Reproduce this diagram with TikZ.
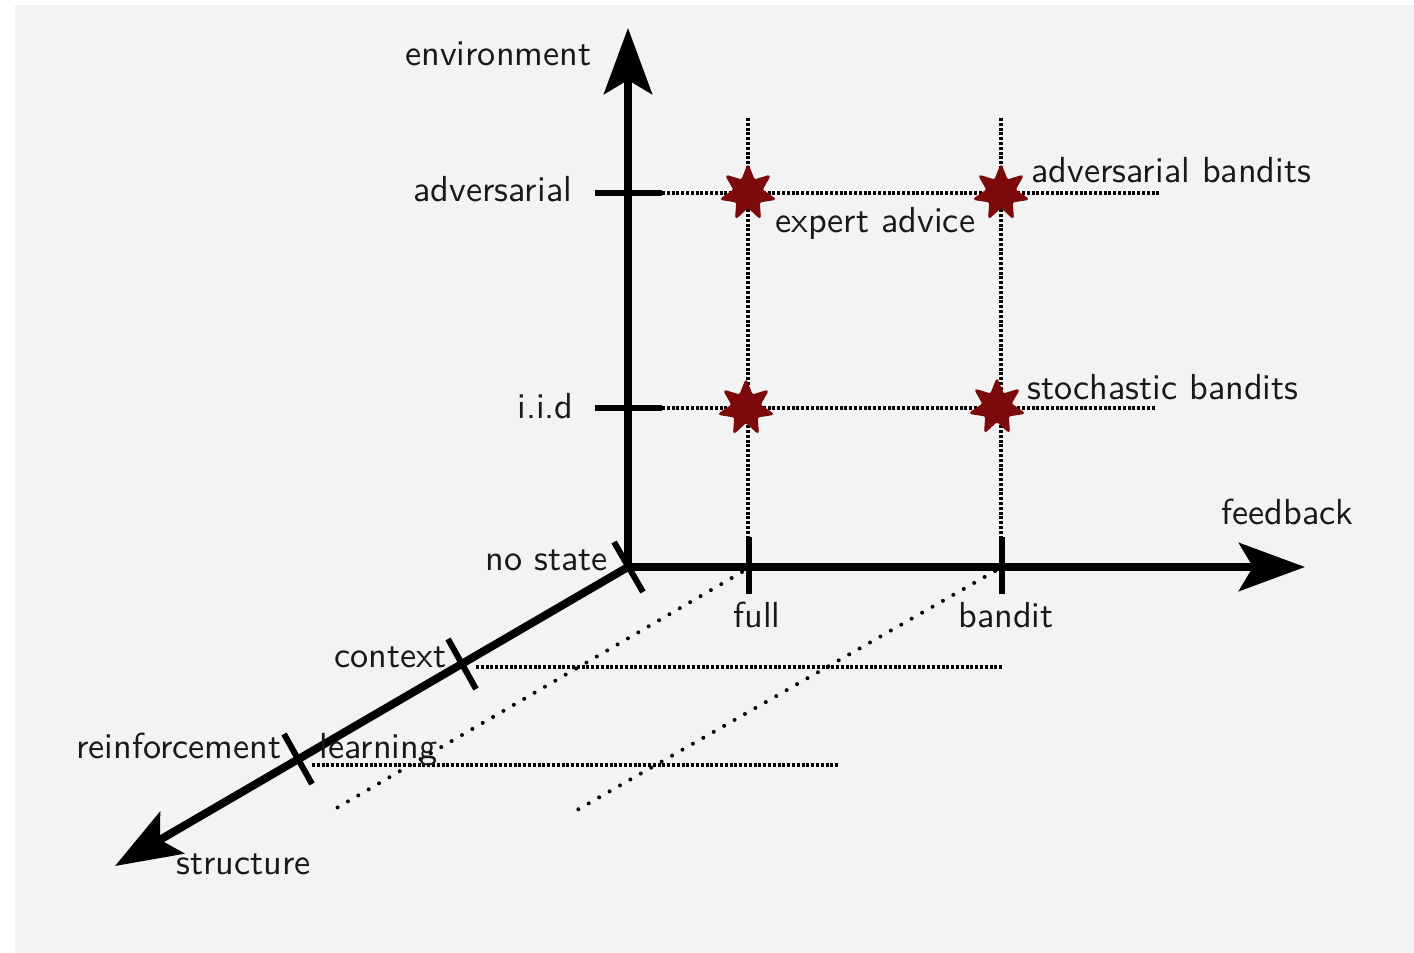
\documentclass[tikz,border=0pt]{standalone}
\usepackage{fontspec}
\setsansfont{lmsans10-regular.otf}
\usetikzlibrary{arrows.meta,shapes.geometric}
\definecolor{bg}{RGB}{243,243,243}
\definecolor{starred}{RGB}{125,10,10}
\begin{document}
\begin{tikzpicture}[x=0.5pt,y=-0.5pt,
  lbl/.style={font=\sffamily\fontsize{18.1}{22}\selectfont, text=black!90, inner sep=0pt, anchor=base west},
  axisline/.style={line width=4pt, -{Stealth[length=33pt,width=24pt,inset=7pt]}},
  tickline/.style={line width=3pt},
  gridline/.style={line width=1.6pt, dash pattern=on 1.5pt off 0.9pt},
  sparseline/.style={line width=2pt, line cap=round, dash pattern=on 0pt off 6pt},
  starmark/.style={star, star points=7, star point ratio=2.0, minimum size=28pt, inner sep=0pt, fill=starred, draw=starred, line width=0.8pt, rounded corners=1.2pt}]
\useasboundingbox (0,0) rectangle (1414,953);
\fill[bg] (15,5) rectangle (1414,953);

% coordinates
\coordinate (O) at (628,567);
\coordinate (ytip) at (628,28);
\coordinate (xtip) at (1305,567);
\coordinate (ztip) at (115,866);
\coordinate (advL) at (595,193); \coordinate (advR) at (662,193);
\coordinate (iidL) at (595,408); \coordinate (iidR) at (662,408);
\coordinate (fullT) at (749,537); \coordinate (fullB) at (749,594);
\coordinate (banT) at (1002,537); \coordinate (banB) at (1002,594);
\coordinate (nsA) at (614,542); \coordinate (nsB) at (643,592);
\coordinate (ctA) at (448,639); \coordinate (ctB) at (476,689);
\coordinate (rlA) at (284,734); \coordinate (rlB) at (312,784);
\coordinate (advE) at (1160,193);
\coordinate (iidE) at (1155,408);
\coordinate (fullTop) at (748,118); \coordinate (fullBot) at (748,567);
\coordinate (banTop) at (1001,118); \coordinate (banBot) at (1001,567);
\coordinate (ctS) at (476,667); \coordinate (ctE) at (1003,667);
\coordinate (rlS) at (312,765); \coordinate (rlE) at (838,765);
\coordinate (d1S) at (742,572); \coordinate (d1E) at (328,813);
\coordinate (d2S) at (995,571); \coordinate (d2E) at (577,810);

% grid lines
\draw[gridline] (advR) -- (advE);
\draw[gridline] (iidR) -- (iidE);
\draw[gridline] (fullTop) -- (fullBot);
\draw[gridline] (banTop) -- (banBot);
\draw[gridline] (ctS) -- (ctE);
\draw[gridline] (rlS) -- (rlE);
\draw[sparseline] (d1S) -- (d1E);
\draw[sparseline] (d2S) -- (d2E);

% axes
\draw[axisline] ([yshift=-2pt]O) -- (ytip);
\draw[axisline] (O) -- (xtip);
\draw[axisline] (O) -- (ztip);

% ticks
\draw[tickline] (advL) -- (advR);
\draw[tickline] (iidL) -- (iidR);
\draw[tickline] (fullT) -- (fullB);
\draw[tickline] (banT) -- (banB);
\draw[tickline] (nsA) -- (nsB);
\draw[tickline] (ctA) -- (ctB);
\draw[tickline] (rlA) -- (rlB);

% stars
\node[starmark] (s1) at (748,193) {};
\node[starmark] (s2) at (1001,193) {};
\node[starmark] (s3) at (746,408) {};
\node[starmark] (s4) at (997,407) {};

% labels
\node[lbl] (lenv) at (405,65) {environment};
\node[lbl] (ladv) at (413,201) {adversarial};
\node[lbl] (liid) at (517,418) {i.i.d};
\node[lbl] (lns) at (485,570) {no state};
\node[lbl] (lctx) at (334,667) {context};
\node[lbl] (lrl) at (76,758) {reinforcement\hspace{19pt}learning};
\node[lbl] (lstr) at (176,874) {structure};
\node[lbl] (lfull) at (733,627) {full};
\node[lbl] (lban) at (958,627) {bandit};
\node[lbl] (lfb) at (1221,524) {feedback};
\node[lbl] (lexp) at (775,232) {expert advice};
\node[lbl] (ladvb) at (1031,182) {adversarial bandits};
\node[lbl] (lsto) at (1027,399) {stochastic bandits};
\end{tikzpicture}
\end{document}
